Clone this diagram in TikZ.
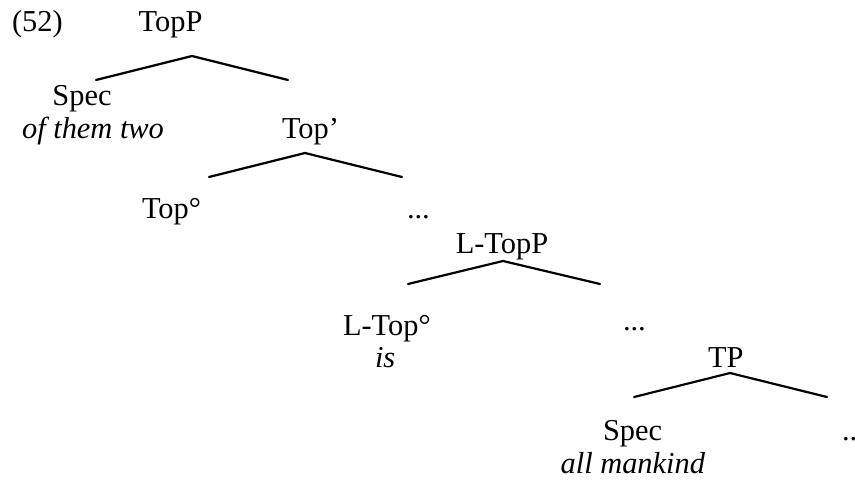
\documentclass[tikz,border=0pt]{standalone}
\usepackage{fontspec}
\setmainfont{Liberation Serif}
\begin{document}
\begin{tikzpicture}[x=0.5pt,y=-0.5pt,
  lbl/.style={inner sep=0pt,outer sep=0pt,anchor=base west,font=\fontsize{15.2}{18}\selectfont},
  lblc/.style={lbl,anchor=base},
  branch/.style={line width=1.1pt,line cap=round}]
\useasboundingbox (0,0) rectangle (855,481);
% labels
\node[lbl] (ex) at (12,32) {(52)};
\node[lblc] (topp) at (170.5,32) {TopP};
\node[lblc] (spec1) at (82,105) {Spec};
\node[lblc] (oftwo) at (93,138) {\itshape of them two};
\node[lbl] (topbar) at (282,138) {Top’};
\node[lbl] (tophead) at (142,218) {Top°};
\node[lbl] (dots1) at (407,218) {...};
\node[lblc] (ltopp) at (502,253) {L-TopP};
\node[lbl] (ltophead) at (343,335) {L-Top°};
\node[lbl] (is) at (375,367) {\itshape is};
\node[lbl] (dots2) at (623,330) {...};
\node[lbl] (tp) at (708,367) {TP};
\node[lbl] (spec2) at (603,440) {Spec};
\node[lbl,anchor=base east] (mankind) at (705,473) {\itshape all mankind};
\node[lbl] (dots3) at (842,440) {..};
% branch points
\coordinate (a1) at (192,56);  \coordinate (l1) at (96,80);   \coordinate (r1) at (288,80);
\coordinate (a2) at (305,153); \coordinate (l2) at (209,177); \coordinate (r2) at (402,177);
\coordinate (a3) at (503,261); \coordinate (l3) at (408,284); \coordinate (r3) at (600,284);
\coordinate (a4) at (730,373); \coordinate (l4) at (634,397); \coordinate (r4) at (827,397);
\draw[branch] (l1) -- (a1) -- (r1);
\draw[branch] (l2) -- (a2) -- (r2);
\draw[branch] (l3) -- (a3) -- (r3);
\draw[branch] (l4) -- (a4) -- (r4);
\end{tikzpicture}
\end{document}
